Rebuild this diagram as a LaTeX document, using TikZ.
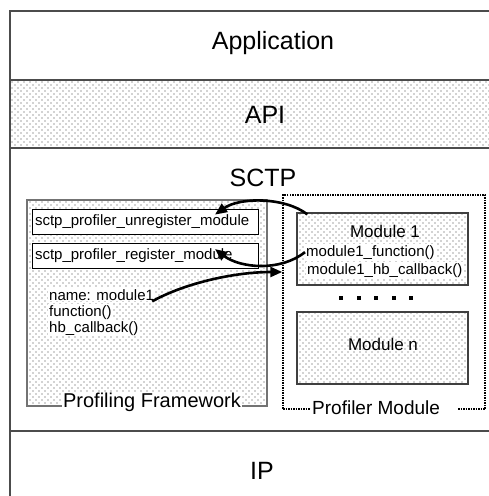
\documentclass[tikz,border=0pt]{standalone}
\usepackage{fontspec}
\setmainfont{Liberation Sans}
\usetikzlibrary{patterns,arrows.meta}
\pgfdeclarepatternformonly{finedots}{\pgfqpoint{-1pt}{-1pt}}{\pgfqpoint{6pt}{6pt}}{\pgfqpoint{6pt}{6pt}}{%
  \pgfpathcircle{\pgfqpoint{0pt}{0pt}}{0.6pt}%
  \pgfpathcircle{\pgfqpoint{3pt}{3pt}}{0.6pt}%
  \pgfusepath{fill}}
\begin{document}
\begin{tikzpicture}[x=1pt,y=-1pt,
  layer/.style={draw=black!70, line width=1.5pt, minimum width=490pt, anchor=north west, inner sep=0pt, outer sep=0pt},
  dotfill/.style={pattern=finedots, pattern color=black!75},
  title/.style={font=\fontsize{25}{30}\selectfont, anchor=base, inner sep=0pt},
  small/.style={font=\fontsize{15}{18}\selectfont},
  smalllbl/.style={small, fill=white, inner sep=1pt, anchor=base west},
  funcbox/.style={draw=black, line width=0.8pt, fill=white, minimum width=226pt, minimum height=25pt, text width=220pt, inner xsep=3pt, align=left, small},
  modbox/.style={draw=black!75, line width=1.2pt, dotfill, minimum width=171pt, minimum height=72pt},
  modtitle/.style={font=\fontsize{17}{20}\selectfont, anchor=base, inner sep=0pt},
  sq/.style={fill=black, minimum size=4pt, inner sep=0pt},
  conn/.style={line width=2.6pt, -{Triangle[length=12pt,width=10pt]}}
]
\useasboundingbox (0,0) rectangle (488,496);

% layers
\node[layer, minimum height=69pt] (app) at (10,11) {};
\node[layer, dotfill, minimum height=68pt] (api) at (10,80) {};
\node[layer, minimum height=283pt] (sctp) at (10,148) {};
\node[layer, minimum height=80pt] (ip) at (10,431) {};

\node[title] (tapp) at (273,49) {Application};
\node[title] (tapi) at (265,123) {API};
\node[title] (tsctp) at (263,186) {SCTP};
\node[title] (tip) at (262,479) {IP};

% profiling framework
\node[draw=black!55, line width=1.2pt, dotfill, minimum width=240pt, minimum height=206pt] (fw) at (147,303) {};
\node[fill=white, inner sep=1pt, font=\fontsize{20}{24}\selectfont, anchor=base] (fwl) at (152,407) {Profiling Framework};

\node[funcbox] (unreg) at (145,221.5) {sctp\_profiler\_unregister\_module};
\node[funcbox] (reg) at (145,256) {sctp\_profiler\_register\_module};

\node[smalllbl] (nm) at (48,300) {name: module1};
\node[smalllbl] (fn) at (48,316) {function()};
\node[smalllbl] (hb) at (48,332) {hb\_callback()};

% profiler module
\node[draw, densely dotted, line width=1.5pt, minimum width=202pt, minimum height=214pt] (pm) at (384,302) {};
\node[fill=white, inner sep=1pt, font=\fontsize{19}{23}\selectfont, anchor=base west] (pml) at (311,414) {Profiler Module\hbox to 16pt{\hfil}};

\node[modbox] (m1) at (382.5,249) {};
\node[modtitle] (m1t) at (385,237) {Module 1};
\node[smalllbl] (m1fn) at (305,256) {module1\_function()};
\node[smalllbl] (m1hb) at (306,274) {module1\_hb\_callback()};

\foreach \i/\x in {1/341,2/358.5,3/376,4/393.5,5/411}
  \node[sq] (d\i) at (\x,298) {};

\node[modbox] (mn) at (382.5,348) {};
\node[modtitle] (mnt) at (383,350) {Module n};

% connectors
\draw[conn] ([xshift=11pt,yshift=-2pt]m1.north west) .. controls (285,197) and (240,197) .. ([xshift=70pt,yshift=-6pt]unreg.north);
\draw[conn] (m1fn.west) .. controls (280,272) and (240,268) .. ([xshift=70pt,yshift=-6pt]reg.north);
\draw[conn] ([xshift=-3pt]nm.south east) .. controls (185,283) and (235,272) .. ([yshift=30pt]pm.west);
\end{tikzpicture}
\end{document}
